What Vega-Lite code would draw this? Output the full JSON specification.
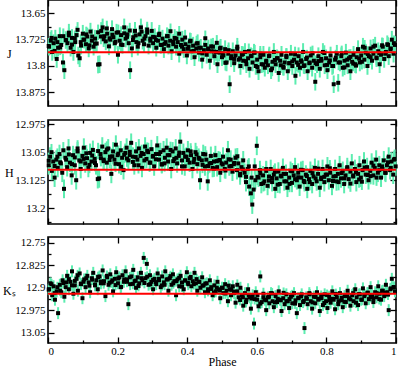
{
"$schema":"https://vega.github.io/schema/vega-lite/v6.json",
"padding":{"left":1,"top":-2,"right":0,"bottom":0},
"spacing":9,
"config":{
 "view":{"stroke":"black","strokeWidth":1.6},
 "axis":{"labelFont":"Liberation Serif","labelFontSize":11,"labelColor":"black","titleFont":"Liberation Serif","titleFontSize":12,"titleFontWeight":"normal","titleColor":"black","tickColor":"black","tickWidth":1.3,"grid":false,"domain":false}
},
"datasets":{
"J":[
{"phase":0.003,"mag":13.745,"err":0.025},{"phase":0.008,"mag":13.728,"err":0.025},{"phase":0.012,"mag":13.760,"err":0.025},{"phase":0.016,"mag":13.735,"err":0.025},{"phase":0.021,"mag":13.722,"err":0.025},{"phase":0.025,"mag":13.780,"err":0.025},{"phase":0.029,"mag":13.748,"err":0.025},{"phase":0.034,"mag":13.715,"err":0.025},{"phase":0.038,"mag":13.740,"err":0.025},{"phase":0.043,"mag":13.790,"err":0.025},{"phase":0.047,"mag":13.812,"err":0.025},{"phase":0.051,"mag":13.726,"err":0.025},{"phase":0.056,"mag":13.735,"err":0.025},{"phase":0.060,"mag":13.705,"err":0.025},{"phase":0.065,"mag":13.748,"err":0.025},{"phase":0.069,"mag":13.720,"err":0.025},{"phase":0.073,"mag":13.760,"err":0.025},{"phase":0.078,"mag":13.732,"err":0.025},{"phase":0.082,"mag":13.712,"err":0.025},{"phase":0.087,"mag":13.770,"err":0.025},{"phase":0.091,"mag":13.778,"err":0.025},{"phase":0.095,"mag":13.742,"err":0.025},{"phase":0.100,"mag":13.708,"err":0.025},{"phase":0.104,"mag":13.725,"err":0.025},{"phase":0.109,"mag":13.738,"err":0.025},{"phase":0.113,"mag":13.716,"err":0.025},{"phase":0.117,"mag":13.750,"err":0.025},{"phase":0.122,"mag":13.702,"err":0.025},{"phase":0.126,"mag":13.728,"err":0.025},{"phase":0.131,"mag":13.745,"err":0.025},{"phase":0.135,"mag":13.722,"err":0.025},{"phase":0.140,"mag":13.736,"err":0.025},{"phase":0.144,"mag":13.796,"err":0.025},{"phase":0.148,"mag":13.795,"err":0.025},{"phase":0.153,"mag":13.700,"err":0.025},{"phase":0.157,"mag":13.690,"err":0.025},{"phase":0.162,"mag":13.715,"err":0.025},{"phase":0.166,"mag":13.730,"err":0.025},{"phase":0.170,"mag":13.708,"err":0.025},{"phase":0.175,"mag":13.744,"err":0.025},{"phase":0.179,"mag":13.725,"err":0.025},{"phase":0.184,"mag":13.695,"err":0.025},{"phase":0.188,"mag":13.718,"err":0.025},{"phase":0.192,"mag":13.735,"err":0.025},{"phase":0.197,"mag":13.705,"err":0.025},{"phase":0.201,"mag":13.768,"err":0.025},{"phase":0.206,"mag":13.728,"err":0.025},{"phase":0.210,"mag":13.712,"err":0.025},{"phase":0.214,"mag":13.740,"err":0.025},{"phase":0.219,"mag":13.690,"err":0.025},{"phase":0.223,"mag":13.722,"err":0.025},{"phase":0.228,"mag":13.710,"err":0.025},{"phase":0.232,"mag":13.735,"err":0.025},{"phase":0.236,"mag":13.812,"err":0.025},{"phase":0.241,"mag":13.750,"err":0.025},{"phase":0.245,"mag":13.718,"err":0.025},{"phase":0.250,"mag":13.700,"err":0.025},{"phase":0.254,"mag":13.732,"err":0.025},{"phase":0.258,"mag":13.745,"err":0.025},{"phase":0.263,"mag":13.710,"err":0.025},{"phase":0.267,"mag":13.690,"err":0.025},{"phase":0.272,"mag":13.728,"err":0.025},{"phase":0.276,"mag":13.738,"err":0.025},{"phase":0.280,"mag":13.715,"err":0.025},{"phase":0.285,"mag":13.705,"err":0.025},{"phase":0.289,"mag":13.742,"err":0.025},{"phase":0.294,"mag":13.722,"err":0.025},{"phase":0.298,"mag":13.700,"err":0.025},{"phase":0.302,"mag":13.735,"err":0.025},{"phase":0.307,"mag":13.718,"err":0.025},{"phase":0.311,"mag":13.748,"err":0.025},{"phase":0.316,"mag":13.728,"err":0.025},{"phase":0.320,"mag":13.708,"err":0.025},{"phase":0.324,"mag":13.740,"err":0.025},{"phase":0.329,"mag":13.722,"err":0.025},{"phase":0.333,"mag":13.752,"err":0.025},{"phase":0.338,"mag":13.732,"err":0.025},{"phase":0.342,"mag":13.715,"err":0.025},{"phase":0.346,"mag":13.742,"err":0.025},{"phase":0.351,"mag":13.728,"err":0.025},{"phase":0.355,"mag":13.758,"err":0.025},{"phase":0.360,"mag":13.738,"err":0.025},{"phase":0.364,"mag":13.720,"err":0.025},{"phase":0.368,"mag":13.745,"err":0.025},{"phase":0.373,"mag":13.732,"err":0.025},{"phase":0.377,"mag":13.765,"err":0.025},{"phase":0.382,"mag":13.740,"err":0.025},{"phase":0.386,"mag":13.725,"err":0.025},{"phase":0.390,"mag":13.752,"err":0.025},{"phase":0.395,"mag":13.738,"err":0.025},{"phase":0.399,"mag":13.770,"err":0.025},{"phase":0.404,"mag":13.745,"err":0.025},{"phase":0.408,"mag":13.730,"err":0.025},{"phase":0.412,"mag":13.758,"err":0.025},{"phase":0.417,"mag":13.742,"err":0.025},{"phase":0.421,"mag":13.775,"err":0.025},{"phase":0.426,"mag":13.750,"err":0.025},{"phase":0.430,"mag":13.735,"err":0.025},{"phase":0.434,"mag":13.762,"err":0.025},{"phase":0.439,"mag":13.748,"err":0.025},{"phase":0.443,"mag":13.782,"err":0.025},{"phase":0.448,"mag":13.755,"err":0.025},{"phase":0.452,"mag":13.740,"err":0.025},{"phase":0.456,"mag":13.768,"err":0.025},{"phase":0.461,"mag":13.750,"err":0.025},{"phase":0.465,"mag":13.785,"err":0.025},{"phase":0.470,"mag":13.758,"err":0.025},{"phase":0.474,"mag":13.745,"err":0.025},{"phase":0.478,"mag":13.772,"err":0.025},{"phase":0.483,"mag":13.760,"err":0.025},{"phase":0.487,"mag":13.795,"err":0.025},{"phase":0.492,"mag":13.762,"err":0.025},{"phase":0.496,"mag":13.748,"err":0.025},{"phase":0.500,"mag":13.775,"err":0.025},
{"phase":0.504,"mag":13.770,"err":0.025},{"phase":0.509,"mag":13.752,"err":0.025},{"phase":0.513,"mag":13.790,"err":0.025},{"phase":0.518,"mag":13.765,"err":0.025},{"phase":0.522,"mag":13.852,"err":0.025},{"phase":0.526,"mag":13.778,"err":0.025},{"phase":0.531,"mag":13.758,"err":0.025},{"phase":0.535,"mag":13.792,"err":0.025},{"phase":0.539,"mag":13.770,"err":0.025},{"phase":0.544,"mag":13.745,"err":0.025},{"phase":0.548,"mag":13.782,"err":0.025},{"phase":0.553,"mag":13.800,"err":0.025},{"phase":0.557,"mag":13.768,"err":0.025},{"phase":0.561,"mag":13.785,"err":0.025},{"phase":0.566,"mag":13.760,"err":0.025},{"phase":0.570,"mag":13.795,"err":0.025},{"phase":0.575,"mag":13.778,"err":0.025},{"phase":0.579,"mag":13.808,"err":0.025},{"phase":0.583,"mag":13.772,"err":0.025},{"phase":0.588,"mag":13.790,"err":0.025},{"phase":0.592,"mag":13.762,"err":0.025},{"phase":0.597,"mag":13.800,"err":0.025},{"phase":0.601,"mag":13.782,"err":0.025},{"phase":0.605,"mag":13.815,"err":0.025},{"phase":0.610,"mag":13.775,"err":0.025},{"phase":0.614,"mag":13.795,"err":0.025},{"phase":0.619,"mag":13.768,"err":0.025},{"phase":0.623,"mag":13.805,"err":0.025},{"phase":0.627,"mag":13.785,"err":0.025},{"phase":0.632,"mag":13.798,"err":0.025},{"phase":0.636,"mag":13.770,"err":0.025},{"phase":0.641,"mag":13.812,"err":0.025},{"phase":0.645,"mag":13.788,"err":0.025},{"phase":0.649,"mag":13.760,"err":0.025},{"phase":0.654,"mag":13.795,"err":0.025},{"phase":0.658,"mag":13.778,"err":0.025},{"phase":0.663,"mag":13.820,"err":0.025},{"phase":0.667,"mag":13.785,"err":0.025},{"phase":0.671,"mag":13.768,"err":0.025},{"phase":0.676,"mag":13.802,"err":0.025},{"phase":0.680,"mag":13.790,"err":0.025},{"phase":0.685,"mag":13.775,"err":0.025},{"phase":0.689,"mag":13.815,"err":0.025},{"phase":0.693,"mag":13.792,"err":0.025},{"phase":0.698,"mag":13.765,"err":0.025},{"phase":0.702,"mag":13.800,"err":0.025},{"phase":0.707,"mag":13.782,"err":0.025},{"phase":0.711,"mag":13.828,"err":0.025},{"phase":0.715,"mag":13.790,"err":0.025},{"phase":0.720,"mag":13.772,"err":0.025},{"phase":0.724,"mag":13.805,"err":0.025},{"phase":0.729,"mag":13.788,"err":0.025},{"phase":0.733,"mag":13.760,"err":0.025},{"phase":0.737,"mag":13.798,"err":0.025},{"phase":0.742,"mag":13.780,"err":0.025},{"phase":0.746,"mag":13.815,"err":0.025},{"phase":0.751,"mag":13.792,"err":0.025},{"phase":0.755,"mag":13.770,"err":0.025},{"phase":0.759,"mag":13.805,"err":0.025},{"phase":0.764,"mag":13.785,"err":0.025},{"phase":0.768,"mag":13.845,"err":0.025},{"phase":0.773,"mag":13.795,"err":0.025},{"phase":0.777,"mag":13.772,"err":0.025},{"phase":0.781,"mag":13.808,"err":0.025},{"phase":0.786,"mag":13.785,"err":0.025},{"phase":0.790,"mag":13.760,"err":0.025},{"phase":0.795,"mag":13.798,"err":0.025},{"phase":0.799,"mag":13.778,"err":0.025},{"phase":0.803,"mag":13.812,"err":0.025},{"phase":0.808,"mag":13.790,"err":0.025},{"phase":0.812,"mag":13.770,"err":0.025},{"phase":0.817,"mag":13.800,"err":0.025},{"phase":0.821,"mag":13.852,"err":0.025},{"phase":0.825,"mag":13.782,"err":0.025},{"phase":0.830,"mag":13.765,"err":0.025},{"phase":0.834,"mag":13.848,"err":0.025},{"phase":0.839,"mag":13.790,"err":0.025},{"phase":0.843,"mag":13.772,"err":0.025},{"phase":0.847,"mag":13.805,"err":0.025},{"phase":0.852,"mag":13.785,"err":0.025},{"phase":0.856,"mag":13.762,"err":0.025},{"phase":0.861,"mag":13.798,"err":0.025},{"phase":0.865,"mag":13.778,"err":0.025},{"phase":0.869,"mag":13.815,"err":0.025},{"phase":0.874,"mag":13.788,"err":0.025},{"phase":0.878,"mag":13.768,"err":0.025},{"phase":0.883,"mag":13.795,"err":0.025},{"phase":0.887,"mag":13.775,"err":0.025},{"phase":0.891,"mag":13.752,"err":0.025},{"phase":0.896,"mag":13.790,"err":0.025},{"phase":0.900,"mag":13.770,"err":0.025},{"phase":0.905,"mag":13.745,"err":0.025},{"phase":0.909,"mag":13.782,"err":0.025},{"phase":0.913,"mag":13.762,"err":0.025},{"phase":0.918,"mag":13.800,"err":0.025},{"phase":0.922,"mag":13.772,"err":0.025},{"phase":0.927,"mag":13.750,"err":0.025},{"phase":0.931,"mag":13.785,"err":0.025},{"phase":0.935,"mag":13.765,"err":0.025},{"phase":0.940,"mag":13.742,"err":0.025},{"phase":0.944,"mag":13.778,"err":0.025},{"phase":0.949,"mag":13.758,"err":0.025},{"phase":0.953,"mag":13.795,"err":0.025},{"phase":0.957,"mag":13.768,"err":0.025},{"phase":0.962,"mag":13.745,"err":0.025},{"phase":0.966,"mag":13.780,"err":0.025},{"phase":0.971,"mag":13.760,"err":0.025},{"phase":0.975,"mag":13.738,"err":0.025},{"phase":0.979,"mag":13.772,"err":0.025},{"phase":0.984,"mag":13.752,"err":0.025},{"phase":0.988,"mag":13.725,"err":0.025},{"phase":0.993,"mag":13.765,"err":0.025},{"phase":0.997,"mag":13.740,"err":0.025},
{"phase":0.002,"mag":13.743,"err":0.022},{"phase":0.010,"mag":13.720,"err":0.022},{"phase":0.019,"mag":13.757,"err":0.022},{"phase":0.027,"mag":13.732,"err":0.022},{"phase":0.035,"mag":13.747,"err":0.022},{"phase":0.044,"mag":13.715,"err":0.022},{"phase":0.052,"mag":13.727,"err":0.022},{"phase":0.060,"mag":13.713,"err":0.022},{"phase":0.069,"mag":13.739,"err":0.022},{"phase":0.077,"mag":13.721,"err":0.022},{"phase":0.085,"mag":13.697,"err":0.022},{"phase":0.094,"mag":13.732,"err":0.022},{"phase":0.102,"mag":13.725,"err":0.022},{"phase":0.110,"mag":13.710,"err":0.022},{"phase":0.119,"mag":13.741,"err":0.022},{"phase":0.127,"mag":13.716,"err":0.022},{"phase":0.135,"mag":13.736,"err":0.022},{"phase":0.144,"mag":13.704,"err":0.022},{"phase":0.152,"mag":13.716,"err":0.022},{"phase":0.160,"mag":13.724,"err":0.022},{"phase":0.169,"mag":13.693,"err":0.022},{"phase":0.177,"mag":13.721,"err":0.022},{"phase":0.185,"mag":13.711,"err":0.022},{"phase":0.194,"mag":13.731,"err":0.022},{"phase":0.202,"mag":13.704,"err":0.022},{"phase":0.210,"mag":13.739,"err":0.022},{"phase":0.219,"mag":13.707,"err":0.022},{"phase":0.227,"mag":13.717,"err":0.022},{"phase":0.235,"mag":13.699,"err":0.022},{"phase":0.244,"mag":13.726,"err":0.022},{"phase":0.252,"mag":13.713,"err":0.022},{"phase":0.260,"mag":13.735,"err":0.022},{"phase":0.269,"mag":13.702,"err":0.022},{"phase":0.277,"mag":13.722,"err":0.022},{"phase":0.285,"mag":13.696,"err":0.022},{"phase":0.294,"mag":13.728,"err":0.022},{"phase":0.302,"mag":13.717,"err":0.022},{"phase":0.310,"mag":13.726,"err":0.022},{"phase":0.319,"mag":13.712,"err":0.022},{"phase":0.327,"mag":13.740,"err":0.022},{"phase":0.335,"mag":13.737,"err":0.022},{"phase":0.344,"mag":13.715,"err":0.022},{"phase":0.352,"mag":13.701,"err":0.022},{"phase":0.360,"mag":13.731,"err":0.022},{"phase":0.369,"mag":13.722,"err":0.022},{"phase":0.377,"mag":13.708,"err":0.022},{"phase":0.385,"mag":13.745,"err":0.022},{"phase":0.394,"mag":13.719,"err":0.022},{"phase":0.402,"mag":13.751,"err":0.022},{"phase":0.410,"mag":13.728,"err":0.022},{"phase":0.419,"mag":13.757,"err":0.022},{"phase":0.427,"mag":13.736,"err":0.022},{"phase":0.435,"mag":13.748,"err":0.022},{"phase":0.444,"mag":13.764,"err":0.022},{"phase":0.452,"mag":13.721,"err":0.022},{"phase":0.460,"mag":13.752,"err":0.022},{"phase":0.469,"mag":13.744,"err":0.022},{"phase":0.477,"mag":13.759,"err":0.022},{"phase":0.485,"mag":13.734,"err":0.022},{"phase":0.494,"mag":13.750,"err":0.022},{"phase":0.502,"mag":13.764,"err":0.022},{"phase":0.510,"mag":13.791,"err":0.022},{"phase":0.519,"mag":13.755,"err":0.022},{"phase":0.527,"mag":13.772,"err":0.022},{"phase":0.535,"mag":13.780,"err":0.022},{"phase":0.544,"mag":13.751,"err":0.022},{"phase":0.552,"mag":13.778,"err":0.022},{"phase":0.560,"mag":13.766,"err":0.022},{"phase":0.569,"mag":13.786,"err":0.022},{"phase":0.577,"mag":13.758,"err":0.022},{"phase":0.585,"mag":13.771,"err":0.022},{"phase":0.594,"mag":13.762,"err":0.022},{"phase":0.602,"mag":13.803,"err":0.022},{"phase":0.610,"mag":13.765,"err":0.022},{"phase":0.619,"mag":13.796,"err":0.022},{"phase":0.627,"mag":13.789,"err":0.022},{"phase":0.635,"mag":13.772,"err":0.022},{"phase":0.644,"mag":13.807,"err":0.022},{"phase":0.652,"mag":13.783,"err":0.022},{"phase":0.660,"mag":13.778,"err":0.022},{"phase":0.669,"mag":13.798,"err":0.022},{"phase":0.677,"mag":13.805,"err":0.022},{"phase":0.685,"mag":13.771,"err":0.022},{"phase":0.694,"mag":13.792,"err":0.022},{"phase":0.702,"mag":13.787,"err":0.022},{"phase":0.710,"mag":13.767,"err":0.022},{"phase":0.719,"mag":13.797,"err":0.022},{"phase":0.727,"mag":13.784,"err":0.022},{"phase":0.735,"mag":13.800,"err":0.022},{"phase":0.744,"mag":13.776,"err":0.022},{"phase":0.752,"mag":13.790,"err":0.022},{"phase":0.760,"mag":13.764,"err":0.022},{"phase":0.769,"mag":13.792,"err":0.022},{"phase":0.777,"mag":13.786,"err":0.022},{"phase":0.785,"mag":13.780,"err":0.022},{"phase":0.794,"mag":13.763,"err":0.022},{"phase":0.802,"mag":13.797,"err":0.022},{"phase":0.810,"mag":13.784,"err":0.022},{"phase":0.819,"mag":13.800,"err":0.022},{"phase":0.827,"mag":13.776,"err":0.022},{"phase":0.835,"mag":13.790,"err":0.022},{"phase":0.844,"mag":13.764,"err":0.022},{"phase":0.852,"mag":13.804,"err":0.022},{"phase":0.860,"mag":13.782,"err":0.022},{"phase":0.869,"mag":13.774,"err":0.022},{"phase":0.877,"mag":13.793,"err":0.022},{"phase":0.885,"mag":13.799,"err":0.022},{"phase":0.894,"mag":13.779,"err":0.022},{"phase":0.902,"mag":13.788,"err":0.022},{"phase":0.910,"mag":13.748,"err":0.022},{"phase":0.919,"mag":13.766,"err":0.022},{"phase":0.927,"mag":13.775,"err":0.022},{"phase":0.935,"mag":13.745,"err":0.022},{"phase":0.944,"mag":13.776,"err":0.022},{"phase":0.952,"mag":13.763,"err":0.022},{"phase":0.960,"mag":13.741,"err":0.022},{"phase":0.969,"mag":13.765,"err":0.022},{"phase":0.977,"mag":13.740,"err":0.022},{"phase":0.985,"mag":13.750,"err":0.022},{"phase":0.994,"mag":13.735,"err":0.022}
],
"H":[
{"phase":0.002,"mag":13.085,"err":0.025},{"phase":0.006,"mag":13.062,"err":0.025},{"phase":0.011,"mag":13.100,"err":0.025},{"phase":0.015,"mag":13.075,"err":0.025},{"phase":0.019,"mag":13.118,"err":0.025},{"phase":0.024,"mag":13.070,"err":0.025},{"phase":0.028,"mag":13.092,"err":0.025},{"phase":0.033,"mag":13.055,"err":0.025},{"phase":0.037,"mag":13.080,"err":0.025},{"phase":0.041,"mag":13.105,"err":0.025},{"phase":0.046,"mag":13.148,"err":0.025},{"phase":0.050,"mag":13.065,"err":0.025},{"phase":0.055,"mag":13.090,"err":0.025},{"phase":0.059,"mag":13.040,"err":0.025},{"phase":0.063,"mag":13.078,"err":0.025},{"phase":0.068,"mag":13.112,"err":0.025},{"phase":0.072,"mag":13.058,"err":0.025},{"phase":0.077,"mag":13.085,"err":0.025},{"phase":0.081,"mag":13.125,"err":0.025},{"phase":0.085,"mag":13.048,"err":0.025},{"phase":0.090,"mag":13.072,"err":0.025},{"phase":0.094,"mag":13.095,"err":0.025},{"phase":0.099,"mag":13.060,"err":0.025},{"phase":0.103,"mag":13.038,"err":0.025},{"phase":0.107,"mag":13.080,"err":0.025},{"phase":0.112,"mag":13.066,"err":0.025},{"phase":0.116,"mag":13.092,"err":0.025},{"phase":0.121,"mag":13.052,"err":0.025},{"phase":0.125,"mag":13.075,"err":0.025},{"phase":0.129,"mag":13.044,"err":0.025},{"phase":0.134,"mag":13.068,"err":0.025},{"phase":0.138,"mag":13.085,"err":0.025},{"phase":0.143,"mag":13.122,"err":0.025},{"phase":0.147,"mag":13.120,"err":0.025},{"phase":0.151,"mag":13.055,"err":0.025},{"phase":0.156,"mag":13.035,"err":0.025},{"phase":0.160,"mag":13.070,"err":0.025},{"phase":0.165,"mag":13.050,"err":0.025},{"phase":0.169,"mag":13.078,"err":0.025},{"phase":0.173,"mag":13.040,"err":0.025},{"phase":0.178,"mag":13.062,"err":0.025},{"phase":0.182,"mag":13.108,"err":0.025},{"phase":0.187,"mag":13.048,"err":0.025},{"phase":0.191,"mag":13.070,"err":0.025},{"phase":0.195,"mag":13.030,"err":0.025},{"phase":0.200,"mag":13.058,"err":0.025},{"phase":0.204,"mag":13.082,"err":0.025},{"phase":0.209,"mag":13.045,"err":0.025},{"phase":0.213,"mag":13.065,"err":0.025},{"phase":0.217,"mag":13.098,"err":0.025},{"phase":0.222,"mag":13.052,"err":0.025},{"phase":0.226,"mag":13.038,"err":0.025},{"phase":0.231,"mag":13.072,"err":0.025},{"phase":0.235,"mag":13.058,"err":0.025},{"phase":0.239,"mag":13.025,"err":0.025},{"phase":0.244,"mag":13.062,"err":0.025},{"phase":0.248,"mag":13.085,"err":0.025},{"phase":0.253,"mag":13.048,"err":0.025},{"phase":0.257,"mag":13.070,"err":0.025},{"phase":0.261,"mag":13.040,"err":0.025},{"phase":0.266,"mag":13.060,"err":0.025},{"phase":0.270,"mag":13.092,"err":0.025},{"phase":0.275,"mag":13.055,"err":0.025},{"phase":0.279,"mag":13.035,"err":0.025},{"phase":0.283,"mag":13.068,"err":0.025},{"phase":0.288,"mag":13.050,"err":0.025},{"phase":0.292,"mag":13.078,"err":0.025},{"phase":0.297,"mag":13.042,"err":0.025},{"phase":0.301,"mag":13.062,"err":0.025},{"phase":0.305,"mag":13.088,"err":0.025},{"phase":0.310,"mag":13.055,"err":0.025},{"phase":0.314,"mag":13.032,"err":0.025},{"phase":0.319,"mag":13.070,"err":0.025},{"phase":0.323,"mag":13.050,"err":0.025},{"phase":0.327,"mag":13.082,"err":0.025},{"phase":0.332,"mag":13.045,"err":0.025},{"phase":0.336,"mag":13.065,"err":0.025},{"phase":0.341,"mag":13.038,"err":0.025},{"phase":0.345,"mag":13.075,"err":0.025},{"phase":0.349,"mag":13.058,"err":0.025},{"phase":0.354,"mag":13.095,"err":0.025},{"phase":0.358,"mag":13.048,"err":0.025},{"phase":0.363,"mag":13.068,"err":0.025},{"phase":0.367,"mag":13.040,"err":0.025},{"phase":0.371,"mag":13.080,"err":0.025},{"phase":0.376,"mag":13.060,"err":0.025},{"phase":0.380,"mag":13.022,"err":0.025},{"phase":0.385,"mag":13.072,"err":0.025},{"phase":0.389,"mag":13.052,"err":0.025},{"phase":0.393,"mag":13.088,"err":0.025},{"phase":0.398,"mag":13.062,"err":0.025},{"phase":0.402,"mag":13.045,"err":0.025},{"phase":0.407,"mag":13.078,"err":0.025},{"phase":0.411,"mag":13.058,"err":0.025},{"phase":0.415,"mag":13.095,"err":0.025},{"phase":0.420,"mag":13.068,"err":0.025},{"phase":0.424,"mag":13.050,"err":0.025},{"phase":0.429,"mag":13.082,"err":0.025},{"phase":0.433,"mag":13.065,"err":0.025},{"phase":0.437,"mag":13.125,"err":0.025},{"phase":0.442,"mag":13.072,"err":0.025},{"phase":0.446,"mag":13.055,"err":0.025},{"phase":0.451,"mag":13.088,"err":0.025},{"phase":0.455,"mag":13.070,"err":0.025},{"phase":0.459,"mag":13.128,"err":0.025},{"phase":0.464,"mag":13.080,"err":0.025},{"phase":0.468,"mag":13.060,"err":0.025},{"phase":0.473,"mag":13.092,"err":0.025},{"phase":0.477,"mag":13.075,"err":0.025},{"phase":0.481,"mag":13.058,"err":0.025},{"phase":0.486,"mag":13.090,"err":0.025},{"phase":0.490,"mag":13.072,"err":0.025},{"phase":0.495,"mag":13.105,"err":0.025},{"phase":0.499,"mag":13.080,"err":0.025},{"phase":0.503,"mag":13.062,"err":0.025},{"phase":0.508,"mag":13.095,"err":0.025},{"phase":0.512,"mag":13.078,"err":0.025},{"phase":0.517,"mag":13.045,"err":0.025},{"phase":0.521,"mag":13.088,"err":0.025},{"phase":0.525,"mag":13.070,"err":0.025},{"phase":0.530,"mag":13.102,"err":0.025},{"phase":0.534,"mag":13.082,"err":0.025},{"phase":0.539,"mag":13.065,"err":0.025},{"phase":0.543,"mag":13.098,"err":0.025},{"phase":0.547,"mag":13.080,"err":0.025},{"phase":0.552,"mag":13.112,"err":0.025},{"phase":0.556,"mag":13.090,"err":0.025},{"phase":0.561,"mag":13.072,"err":0.025},{"phase":0.565,"mag":13.105,"err":0.025},{"phase":0.569,"mag":13.130,"err":0.025},{"phase":0.574,"mag":13.095,"err":0.025},{"phase":0.578,"mag":13.142,"err":0.025},{"phase":0.583,"mag":13.160,"err":0.025},{"phase":0.587,"mag":13.190,"err":0.025},{"phase":0.591,"mag":13.150,"err":0.025},{"phase":0.596,"mag":13.125,"err":0.025},{"phase":0.600,"mag":13.033,"err":0.025},{"phase":0.605,"mag":13.118,"err":0.025},{"phase":0.609,"mag":13.098,"err":0.025},{"phase":0.613,"mag":13.135,"err":0.025},{"phase":0.618,"mag":13.112,"err":0.025},{"phase":0.622,"mag":13.128,"err":0.025},{"phase":0.627,"mag":13.100,"err":0.025},{"phase":0.631,"mag":13.140,"err":0.025},{"phase":0.635,"mag":13.115,"err":0.025},{"phase":0.640,"mag":13.095,"err":0.025},{"phase":0.644,"mag":13.130,"err":0.025},{"phase":0.649,"mag":13.110,"err":0.025},{"phase":0.653,"mag":13.148,"err":0.025},{"phase":0.657,"mag":13.120,"err":0.025},{"phase":0.662,"mag":13.102,"err":0.025},{"phase":0.666,"mag":13.135,"err":0.025},{"phase":0.671,"mag":13.115,"err":0.025},{"phase":0.675,"mag":13.092,"err":0.025},{"phase":0.679,"mag":13.128,"err":0.025},{"phase":0.684,"mag":13.108,"err":0.025},{"phase":0.688,"mag":13.145,"err":0.025},{"phase":0.693,"mag":13.118,"err":0.025},{"phase":0.697,"mag":13.100,"err":0.025},{"phase":0.701,"mag":13.132,"err":0.025},{"phase":0.706,"mag":13.112,"err":0.025},{"phase":0.710,"mag":13.090,"err":0.025},{"phase":0.715,"mag":13.125,"err":0.025},{"phase":0.719,"mag":13.105,"err":0.025},{"phase":0.723,"mag":13.142,"err":0.025},{"phase":0.728,"mag":13.118,"err":0.025},{"phase":0.732,"mag":13.098,"err":0.025},{"phase":0.737,"mag":13.130,"err":0.025},{"phase":0.741,"mag":13.110,"err":0.025},{"phase":0.745,"mag":13.148,"err":0.025},{"phase":0.750,"mag":13.122,"err":0.025},{"phase":0.754,"mag":13.100,"err":0.025},{"phase":0.759,"mag":13.135,"err":0.025},{"phase":0.763,"mag":13.115,"err":0.025},{"phase":0.767,"mag":13.092,"err":0.025},{"phase":0.772,"mag":13.128,"err":0.025},{"phase":0.776,"mag":13.108,"err":0.025},{"phase":0.781,"mag":13.145,"err":0.025},{"phase":0.785,"mag":13.118,"err":0.025},{"phase":0.789,"mag":13.095,"err":0.025},{"phase":0.794,"mag":13.130,"err":0.025},{"phase":0.798,"mag":13.110,"err":0.025},{"phase":0.803,"mag":13.088,"err":0.025},{"phase":0.807,"mag":13.125,"err":0.025},{"phase":0.811,"mag":13.105,"err":0.025},{"phase":0.816,"mag":13.140,"err":0.025},{"phase":0.820,"mag":13.115,"err":0.025},{"phase":0.825,"mag":13.095,"err":0.025},{"phase":0.829,"mag":13.128,"err":0.025},{"phase":0.833,"mag":13.108,"err":0.025},{"phase":0.838,"mag":13.085,"err":0.025},{"phase":0.842,"mag":13.120,"err":0.025},{"phase":0.847,"mag":13.100,"err":0.025},{"phase":0.851,"mag":13.135,"err":0.025},{"phase":0.855,"mag":13.112,"err":0.025},{"phase":0.860,"mag":13.090,"err":0.025},{"phase":0.864,"mag":13.122,"err":0.025},{"phase":0.869,"mag":13.102,"err":0.025},{"phase":0.873,"mag":13.080,"err":0.025},{"phase":0.877,"mag":13.115,"err":0.025},{"phase":0.882,"mag":13.095,"err":0.025},{"phase":0.886,"mag":13.130,"err":0.025},{"phase":0.891,"mag":13.108,"err":0.025},{"phase":0.895,"mag":13.085,"err":0.025},{"phase":0.899,"mag":13.118,"err":0.025},{"phase":0.904,"mag":13.098,"err":0.025},{"phase":0.908,"mag":13.075,"err":0.025},{"phase":0.913,"mag":13.110,"err":0.025},{"phase":0.917,"mag":13.090,"err":0.025},{"phase":0.921,"mag":13.125,"err":0.025},{"phase":0.926,"mag":13.100,"err":0.025},{"phase":0.930,"mag":13.078,"err":0.025},{"phase":0.935,"mag":13.112,"err":0.025},{"phase":0.939,"mag":13.092,"err":0.025},{"phase":0.943,"mag":13.070,"err":0.025},{"phase":0.948,"mag":13.105,"err":0.025},{"phase":0.952,"mag":13.085,"err":0.025},{"phase":0.957,"mag":13.118,"err":0.025},{"phase":0.961,"mag":13.095,"err":0.025},{"phase":0.965,"mag":13.072,"err":0.025},{"phase":0.970,"mag":13.105,"err":0.025},{"phase":0.974,"mag":13.085,"err":0.025},{"phase":0.979,"mag":13.062,"err":0.025},{"phase":0.983,"mag":13.098,"err":0.025},{"phase":0.987,"mag":13.075,"err":0.025},{"phase":0.992,"mag":13.110,"err":0.025},{"phase":0.996,"mag":13.068,"err":0.025},{"phase":0.999,"mag":13.088,"err":0.025},
{"phase":0.002,"mag":13.073,"err":0.022},{"phase":0.010,"mag":13.050,"err":0.022},{"phase":0.019,"mag":13.087,"err":0.022},{"phase":0.027,"mag":13.062,"err":0.022},{"phase":0.035,"mag":13.077,"err":0.022},{"phase":0.044,"mag":13.045,"err":0.022},{"phase":0.052,"mag":13.070,"err":0.022},{"phase":0.060,"mag":13.056,"err":0.022},{"phase":0.069,"mag":13.082,"err":0.022},{"phase":0.077,"mag":13.064,"err":0.022},{"phase":0.085,"mag":13.040,"err":0.022},{"phase":0.094,"mag":13.075,"err":0.022},{"phase":0.102,"mag":13.068,"err":0.022},{"phase":0.110,"mag":13.053,"err":0.022},{"phase":0.119,"mag":13.084,"err":0.022},{"phase":0.127,"mag":13.059,"err":0.022},{"phase":0.135,"mag":13.079,"err":0.022},{"phase":0.144,"mag":13.047,"err":0.022},{"phase":0.152,"mag":13.066,"err":0.022},{"phase":0.160,"mag":13.074,"err":0.022},{"phase":0.169,"mag":13.043,"err":0.022},{"phase":0.177,"mag":13.071,"err":0.022},{"phase":0.185,"mag":13.061,"err":0.022},{"phase":0.194,"mag":13.081,"err":0.022},{"phase":0.202,"mag":13.054,"err":0.022},{"phase":0.210,"mag":13.089,"err":0.022},{"phase":0.219,"mag":13.057,"err":0.022},{"phase":0.227,"mag":13.067,"err":0.022},{"phase":0.235,"mag":13.049,"err":0.022},{"phase":0.244,"mag":13.076,"err":0.022},{"phase":0.252,"mag":13.063,"err":0.022},{"phase":0.260,"mag":13.085,"err":0.022},{"phase":0.269,"mag":13.052,"err":0.022},{"phase":0.277,"mag":13.072,"err":0.022},{"phase":0.285,"mag":13.046,"err":0.022},{"phase":0.294,"mag":13.078,"err":0.022},{"phase":0.302,"mag":13.060,"err":0.022},{"phase":0.310,"mag":13.069,"err":0.022},{"phase":0.319,"mag":13.055,"err":0.022},{"phase":0.327,"mag":13.083,"err":0.022},{"phase":0.335,"mag":13.080,"err":0.022},{"phase":0.344,"mag":13.058,"err":0.022},{"phase":0.352,"mag":13.044,"err":0.022},{"phase":0.360,"mag":13.074,"err":0.022},{"phase":0.369,"mag":13.065,"err":0.022},{"phase":0.377,"mag":13.051,"err":0.022},{"phase":0.385,"mag":13.088,"err":0.022},{"phase":0.394,"mag":13.062,"err":0.022},{"phase":0.402,"mag":13.071,"err":0.022},{"phase":0.410,"mag":13.048,"err":0.022},{"phase":0.419,"mag":13.077,"err":0.022},{"phase":0.427,"mag":13.056,"err":0.022},{"phase":0.435,"mag":13.068,"err":0.022},{"phase":0.444,"mag":13.084,"err":0.022},{"phase":0.452,"mag":13.056,"err":0.022},{"phase":0.460,"mag":13.087,"err":0.022},{"phase":0.469,"mag":13.079,"err":0.022},{"phase":0.477,"mag":13.094,"err":0.022},{"phase":0.485,"mag":13.074,"err":0.022},{"phase":0.494,"mag":13.071,"err":0.022},{"phase":0.502,"mag":13.083,"err":0.022},{"phase":0.510,"mag":13.099,"err":0.022},{"phase":0.519,"mag":13.069,"err":0.022},{"phase":0.527,"mag":13.087,"err":0.022},{"phase":0.535,"mag":13.079,"err":0.022},{"phase":0.544,"mag":13.061,"err":0.022},{"phase":0.552,"mag":13.108,"err":0.022},{"phase":0.560,"mag":13.096,"err":0.022},{"phase":0.569,"mag":13.116,"err":0.022},{"phase":0.577,"mag":13.088,"err":0.022},{"phase":0.585,"mag":13.118,"err":0.022},{"phase":0.594,"mag":13.088,"err":0.022},{"phase":0.602,"mag":13.116,"err":0.022},{"phase":0.610,"mag":13.107,"err":0.022},{"phase":0.619,"mag":13.133,"err":0.022},{"phase":0.627,"mag":13.095,"err":0.022},{"phase":0.635,"mag":13.126,"err":0.022},{"phase":0.644,"mag":13.119,"err":0.022},{"phase":0.652,"mag":13.102,"err":0.022},{"phase":0.660,"mag":13.137,"err":0.022},{"phase":0.669,"mag":13.113,"err":0.022},{"phase":0.677,"mag":13.108,"err":0.022},{"phase":0.685,"mag":13.128,"err":0.022},{"phase":0.694,"mag":13.135,"err":0.022},{"phase":0.702,"mag":13.101,"err":0.022},{"phase":0.710,"mag":13.122,"err":0.022},{"phase":0.719,"mag":13.117,"err":0.022},{"phase":0.727,"mag":13.097,"err":0.022},{"phase":0.735,"mag":13.127,"err":0.022},{"phase":0.744,"mag":13.114,"err":0.022},{"phase":0.752,"mag":13.130,"err":0.022},{"phase":0.760,"mag":13.106,"err":0.022},{"phase":0.769,"mag":13.120,"err":0.022},{"phase":0.777,"mag":13.094,"err":0.022},{"phase":0.785,"mag":13.122,"err":0.022},{"phase":0.794,"mag":13.116,"err":0.022},{"phase":0.802,"mag":13.110,"err":0.022},{"phase":0.810,"mag":13.093,"err":0.022},{"phase":0.819,"mag":13.127,"err":0.022},{"phase":0.827,"mag":13.114,"err":0.022},{"phase":0.835,"mag":13.130,"err":0.022},{"phase":0.844,"mag":13.106,"err":0.022},{"phase":0.852,"mag":13.120,"err":0.022},{"phase":0.860,"mag":13.094,"err":0.022},{"phase":0.869,"mag":13.134,"err":0.022},{"phase":0.877,"mag":13.112,"err":0.022},{"phase":0.885,"mag":13.104,"err":0.022},{"phase":0.894,"mag":13.123,"err":0.022},{"phase":0.902,"mag":13.129,"err":0.022},{"phase":0.910,"mag":13.091,"err":0.022},{"phase":0.919,"mag":13.111,"err":0.022},{"phase":0.927,"mag":13.114,"err":0.022},{"phase":0.935,"mag":13.086,"err":0.022},{"phase":0.944,"mag":13.118,"err":0.022},{"phase":0.952,"mag":13.098,"err":0.022},{"phase":0.960,"mag":13.088,"err":0.022},{"phase":0.969,"mag":13.105,"err":0.022},{"phase":0.977,"mag":13.077,"err":0.022},{"phase":0.985,"mag":13.092,"err":0.022},{"phase":0.994,"mag":13.070,"err":0.022}
],
"Ks":[
{"phase":0.003,"mag":12.905,"err":0.02},{"phase":0.007,"mag":12.885,"err":0.02},{"phase":0.012,"mag":12.925,"err":0.02},{"phase":0.016,"mag":12.895,"err":0.02},{"phase":0.020,"mag":12.940,"err":0.02},{"phase":0.025,"mag":12.912,"err":0.02},{"phase":0.029,"mag":12.985,"err":0.02},{"phase":0.034,"mag":12.890,"err":0.02},{"phase":0.038,"mag":12.915,"err":0.02},{"phase":0.042,"mag":12.875,"err":0.02},{"phase":0.047,"mag":12.930,"err":0.02},{"phase":0.051,"mag":12.898,"err":0.02},{"phase":0.055,"mag":12.860,"err":0.02},{"phase":0.060,"mag":12.905,"err":0.02},{"phase":0.064,"mag":12.880,"err":0.02},{"phase":0.069,"mag":12.845,"err":0.02},{"phase":0.073,"mag":12.920,"err":0.02},{"phase":0.077,"mag":12.892,"err":0.02},{"phase":0.082,"mag":12.870,"err":0.02},{"phase":0.086,"mag":12.910,"err":0.02},{"phase":0.091,"mag":12.852,"err":0.02},{"phase":0.095,"mag":12.888,"err":0.02},{"phase":0.099,"mag":12.935,"err":0.02},{"phase":0.104,"mag":12.872,"err":0.02},{"phase":0.108,"mag":12.898,"err":0.02},{"phase":0.113,"mag":12.860,"err":0.02},{"phase":0.117,"mag":12.882,"err":0.02},{"phase":0.121,"mag":12.915,"err":0.02},{"phase":0.126,"mag":12.868,"err":0.02},{"phase":0.130,"mag":12.850,"err":0.02},{"phase":0.135,"mag":12.892,"err":0.02},{"phase":0.139,"mag":12.875,"err":0.02},{"phase":0.143,"mag":12.905,"err":0.02},{"phase":0.148,"mag":12.862,"err":0.02},{"phase":0.152,"mag":12.885,"err":0.02},{"phase":0.157,"mag":12.842,"err":0.02},{"phase":0.161,"mag":12.878,"err":0.02},{"phase":0.165,"mag":12.928,"err":0.02},{"phase":0.170,"mag":12.865,"err":0.02},{"phase":0.174,"mag":12.890,"err":0.02},{"phase":0.179,"mag":12.855,"err":0.02},{"phase":0.183,"mag":12.880,"err":0.02},{"phase":0.187,"mag":12.912,"err":0.02},{"phase":0.192,"mag":12.870,"err":0.02},{"phase":0.196,"mag":12.848,"err":0.02},{"phase":0.201,"mag":12.885,"err":0.02},{"phase":0.205,"mag":12.865,"err":0.02},{"phase":0.209,"mag":12.898,"err":0.02},{"phase":0.214,"mag":12.858,"err":0.02},{"phase":0.218,"mag":12.880,"err":0.02},{"phase":0.223,"mag":12.845,"err":0.02},{"phase":0.227,"mag":12.872,"err":0.02},{"phase":0.231,"mag":12.955,"err":0.02},{"phase":0.236,"mag":12.888,"err":0.02},{"phase":0.240,"mag":12.862,"err":0.02},{"phase":0.245,"mag":12.840,"err":0.02},{"phase":0.249,"mag":12.878,"err":0.02},{"phase":0.253,"mag":12.900,"err":0.02},{"phase":0.258,"mag":12.865,"err":0.02},{"phase":0.262,"mag":12.885,"err":0.02},{"phase":0.267,"mag":12.850,"err":0.02},{"phase":0.271,"mag":12.875,"err":0.02},{"phase":0.275,"mag":12.800,"err":0.02},{"phase":0.280,"mag":12.868,"err":0.02},{"phase":0.284,"mag":12.820,"err":0.02},{"phase":0.289,"mag":12.890,"err":0.02},{"phase":0.293,"mag":12.858,"err":0.02},{"phase":0.297,"mag":12.880,"err":0.02},{"phase":0.302,"mag":12.905,"err":0.02},{"phase":0.306,"mag":12.870,"err":0.02},{"phase":0.311,"mag":12.888,"err":0.02},{"phase":0.315,"mag":12.852,"err":0.02},{"phase":0.319,"mag":12.875,"err":0.02},{"phase":0.324,"mag":12.898,"err":0.02},{"phase":0.328,"mag":12.862,"err":0.02},{"phase":0.333,"mag":12.882,"err":0.02},{"phase":0.337,"mag":12.845,"err":0.02},{"phase":0.341,"mag":12.872,"err":0.02},{"phase":0.346,"mag":12.910,"err":0.02},{"phase":0.350,"mag":12.868,"err":0.02},{"phase":0.355,"mag":12.890,"err":0.02},{"phase":0.359,"mag":12.855,"err":0.02},{"phase":0.363,"mag":12.878,"err":0.02},{"phase":0.368,"mag":12.925,"err":0.02},{"phase":0.372,"mag":12.872,"err":0.02},{"phase":0.377,"mag":12.895,"err":0.02},{"phase":0.381,"mag":12.860,"err":0.02},{"phase":0.385,"mag":12.882,"err":0.02},{"phase":0.390,"mag":12.905,"err":0.02},{"phase":0.394,"mag":12.875,"err":0.02},{"phase":0.399,"mag":12.848,"err":0.02},{"phase":0.403,"mag":12.888,"err":0.02},{"phase":0.407,"mag":12.868,"err":0.02},{"phase":0.412,"mag":12.895,"err":0.02},{"phase":0.416,"mag":12.878,"err":0.02},{"phase":0.421,"mag":12.850,"err":0.02},{"phase":0.425,"mag":12.885,"err":0.02},{"phase":0.429,"mag":12.910,"err":0.02},{"phase":0.434,"mag":12.880,"err":0.02},{"phase":0.438,"mag":12.900,"err":0.02},{"phase":0.443,"mag":12.865,"err":0.02},{"phase":0.447,"mag":12.892,"err":0.02},{"phase":0.451,"mag":12.915,"err":0.02},{"phase":0.456,"mag":12.885,"err":0.02},{"phase":0.460,"mag":12.905,"err":0.02},{"phase":0.465,"mag":12.875,"err":0.02},{"phase":0.469,"mag":12.898,"err":0.02},{"phase":0.473,"mag":12.925,"err":0.02},{"phase":0.478,"mag":12.892,"err":0.02},{"phase":0.482,"mag":12.912,"err":0.02},{"phase":0.487,"mag":12.880,"err":0.02},{"phase":0.491,"mag":12.905,"err":0.02},{"phase":0.495,"mag":12.935,"err":0.02},{"phase":0.500,"mag":12.900,"err":0.02},{"phase":0.504,"mag":12.918,"err":0.02},{"phase":0.509,"mag":12.888,"err":0.02},{"phase":0.513,"mag":12.910,"err":0.02},{"phase":0.517,"mag":12.945,"err":0.02},{"phase":0.522,"mag":12.905,"err":0.02},{"phase":0.526,"mag":12.925,"err":0.02},{"phase":0.531,"mag":12.895,"err":0.02},{"phase":0.535,"mag":12.918,"err":0.02},{"phase":0.539,"mag":12.950,"err":0.02},{"phase":0.544,"mag":12.912,"err":0.02},{"phase":0.548,"mag":12.932,"err":0.02},{"phase":0.553,"mag":12.900,"err":0.02},{"phase":0.557,"mag":12.925,"err":0.02},{"phase":0.561,"mag":12.960,"err":0.02},{"phase":0.566,"mag":12.918,"err":0.02},{"phase":0.570,"mag":12.940,"err":0.02},{"phase":0.575,"mag":12.905,"err":0.02},{"phase":0.579,"mag":12.932,"err":0.02},{"phase":0.583,"mag":12.970,"err":0.02},{"phase":0.588,"mag":12.925,"err":0.02},{"phase":0.592,"mag":13.020,"err":0.02},{"phase":0.597,"mag":12.915,"err":0.02},{"phase":0.601,"mag":12.940,"err":0.02},{"phase":0.605,"mag":12.962,"err":0.02},{"phase":0.610,"mag":12.862,"err":0.02},{"phase":0.614,"mag":12.948,"err":0.02},{"phase":0.619,"mag":12.920,"err":0.02},{"phase":0.623,"mag":12.940,"err":0.02},{"phase":0.627,"mag":12.975,"err":0.02},{"phase":0.632,"mag":12.932,"err":0.02},{"phase":0.636,"mag":12.952,"err":0.02},{"phase":0.641,"mag":12.918,"err":0.02},{"phase":0.645,"mag":12.945,"err":0.02},{"phase":0.649,"mag":12.965,"err":0.02},{"phase":0.654,"mag":12.928,"err":0.02},{"phase":0.658,"mag":12.948,"err":0.02},{"phase":0.663,"mag":12.912,"err":0.02},{"phase":0.667,"mag":12.940,"err":0.02},{"phase":0.671,"mag":12.978,"err":0.02},{"phase":0.676,"mag":12.935,"err":0.02},{"phase":0.680,"mag":12.955,"err":0.02},{"phase":0.685,"mag":12.922,"err":0.02},{"phase":0.689,"mag":12.945,"err":0.02},{"phase":0.693,"mag":12.968,"err":0.02},{"phase":0.698,"mag":12.930,"err":0.02},{"phase":0.702,"mag":12.952,"err":0.02},{"phase":0.707,"mag":12.918,"err":0.02},{"phase":0.711,"mag":12.942,"err":0.02},{"phase":0.715,"mag":12.985,"err":0.02},{"phase":0.720,"mag":12.935,"err":0.02},{"phase":0.724,"mag":12.958,"err":0.02},{"phase":0.729,"mag":12.922,"err":0.02},{"phase":0.733,"mag":12.948,"err":0.02},{"phase":0.737,"mag":13.035,"err":0.02},{"phase":0.742,"mag":12.932,"err":0.02},{"phase":0.746,"mag":12.955,"err":0.02},{"phase":0.751,"mag":12.918,"err":0.02},{"phase":0.755,"mag":12.945,"err":0.02},{"phase":0.759,"mag":12.970,"err":0.02},{"phase":0.764,"mag":12.930,"err":0.02},{"phase":0.768,"mag":12.952,"err":0.02},{"phase":0.773,"mag":12.915,"err":0.02},{"phase":0.777,"mag":12.940,"err":0.02},{"phase":0.781,"mag":12.978,"err":0.02},{"phase":0.786,"mag":12.935,"err":0.02},{"phase":0.790,"mag":12.958,"err":0.02},{"phase":0.795,"mag":12.922,"err":0.02},{"phase":0.799,"mag":12.945,"err":0.02},{"phase":0.803,"mag":12.968,"err":0.02},{"phase":0.808,"mag":12.930,"err":0.02},{"phase":0.812,"mag":12.950,"err":0.02},{"phase":0.817,"mag":12.912,"err":0.02},{"phase":0.821,"mag":12.940,"err":0.02},{"phase":0.825,"mag":12.972,"err":0.02},{"phase":0.830,"mag":12.932,"err":0.02},{"phase":0.834,"mag":12.955,"err":0.02},{"phase":0.839,"mag":12.918,"err":0.02},{"phase":0.843,"mag":12.942,"err":0.02},{"phase":0.847,"mag":12.965,"err":0.02},{"phase":0.852,"mag":12.928,"err":0.02},{"phase":0.856,"mag":12.948,"err":0.02},{"phase":0.861,"mag":12.910,"err":0.02},{"phase":0.865,"mag":12.935,"err":0.02},{"phase":0.869,"mag":12.960,"err":0.02},{"phase":0.874,"mag":12.925,"err":0.02},{"phase":0.878,"mag":12.945,"err":0.02},{"phase":0.883,"mag":12.905,"err":0.02},{"phase":0.887,"mag":12.932,"err":0.02},{"phase":0.891,"mag":12.958,"err":0.02},{"phase":0.896,"mag":12.922,"err":0.02},{"phase":0.900,"mag":12.940,"err":0.02},{"phase":0.905,"mag":12.902,"err":0.02},{"phase":0.909,"mag":12.928,"err":0.02},{"phase":0.913,"mag":12.952,"err":0.02},{"phase":0.918,"mag":12.918,"err":0.02},{"phase":0.922,"mag":12.938,"err":0.02},{"phase":0.927,"mag":12.898,"err":0.02},{"phase":0.931,"mag":12.925,"err":0.02},{"phase":0.935,"mag":12.948,"err":0.02},{"phase":0.940,"mag":12.915,"err":0.02},{"phase":0.944,"mag":12.932,"err":0.02},{"phase":0.949,"mag":12.895,"err":0.02},{"phase":0.953,"mag":12.920,"err":0.02},{"phase":0.957,"mag":12.940,"err":0.02},{"phase":0.962,"mag":12.910,"err":0.02},{"phase":0.966,"mag":12.928,"err":0.02},{"phase":0.971,"mag":12.890,"err":0.02},{"phase":0.975,"mag":12.915,"err":0.02},{"phase":0.979,"mag":12.975,"err":0.02},{"phase":0.984,"mag":12.905,"err":0.02},{"phase":0.988,"mag":12.870,"err":0.02},{"phase":0.993,"mag":12.898,"err":0.02},{"phase":0.997,"mag":12.912,"err":0.02},
{"phase":0.002,"mag":12.906,"err":0.018},{"phase":0.010,"mag":12.888,"err":0.018},{"phase":0.019,"mag":12.918,"err":0.018},{"phase":0.027,"mag":12.898,"err":0.018},{"phase":0.035,"mag":12.910,"err":0.018},{"phase":0.044,"mag":12.884,"err":0.018},{"phase":0.052,"mag":12.882,"err":0.018},{"phase":0.060,"mag":12.871,"err":0.018},{"phase":0.069,"mag":12.892,"err":0.018},{"phase":0.077,"mag":12.877,"err":0.018},{"phase":0.085,"mag":12.858,"err":0.018},{"phase":0.094,"mag":12.886,"err":0.018},{"phase":0.102,"mag":12.880,"err":0.018},{"phase":0.110,"mag":12.868,"err":0.018},{"phase":0.119,"mag":12.893,"err":0.018},{"phase":0.127,"mag":12.873,"err":0.018},{"phase":0.135,"mag":12.889,"err":0.018},{"phase":0.144,"mag":12.864,"err":0.018},{"phase":0.152,"mag":12.879,"err":0.018},{"phase":0.160,"mag":12.885,"err":0.018},{"phase":0.169,"mag":12.860,"err":0.018},{"phase":0.177,"mag":12.883,"err":0.018},{"phase":0.185,"mag":12.875,"err":0.018},{"phase":0.194,"mag":12.891,"err":0.018},{"phase":0.202,"mag":12.869,"err":0.018},{"phase":0.210,"mag":12.897,"err":0.018},{"phase":0.219,"mag":12.872,"err":0.018},{"phase":0.227,"mag":12.880,"err":0.018},{"phase":0.235,"mag":12.865,"err":0.018},{"phase":0.244,"mag":12.887,"err":0.018},{"phase":0.252,"mag":12.876,"err":0.018},{"phase":0.260,"mag":12.894,"err":0.018},{"phase":0.269,"mag":12.868,"err":0.018},{"phase":0.277,"mag":12.884,"err":0.018},{"phase":0.285,"mag":12.863,"err":0.018},{"phase":0.294,"mag":12.888,"err":0.018},{"phase":0.302,"mag":12.874,"err":0.018},{"phase":0.310,"mag":12.881,"err":0.018},{"phase":0.319,"mag":12.870,"err":0.018},{"phase":0.327,"mag":12.892,"err":0.018},{"phase":0.335,"mag":12.890,"err":0.018},{"phase":0.344,"mag":12.872,"err":0.018},{"phase":0.352,"mag":12.861,"err":0.018},{"phase":0.360,"mag":12.885,"err":0.018},{"phase":0.369,"mag":12.878,"err":0.018},{"phase":0.377,"mag":12.867,"err":0.018},{"phase":0.385,"mag":12.896,"err":0.018},{"phase":0.394,"mag":12.876,"err":0.018},{"phase":0.402,"mag":12.883,"err":0.018},{"phase":0.410,"mag":12.864,"err":0.018},{"phase":0.419,"mag":12.888,"err":0.018},{"phase":0.427,"mag":12.871,"err":0.018},{"phase":0.435,"mag":12.880,"err":0.018},{"phase":0.444,"mag":12.893,"err":0.018},{"phase":0.452,"mag":12.886,"err":0.018},{"phase":0.460,"mag":12.911,"err":0.018},{"phase":0.469,"mag":12.904,"err":0.018},{"phase":0.477,"mag":12.916,"err":0.018},{"phase":0.485,"mag":12.900,"err":0.018},{"phase":0.494,"mag":12.909,"err":0.018},{"phase":0.502,"mag":12.900,"err":0.018},{"phase":0.510,"mag":12.919,"err":0.018},{"phase":0.519,"mag":12.893,"err":0.018},{"phase":0.527,"mag":12.907,"err":0.018},{"phase":0.535,"mag":12.913,"err":0.018},{"phase":0.544,"mag":12.890,"err":0.018},{"phase":0.552,"mag":12.941,"err":0.018},{"phase":0.560,"mag":12.932,"err":0.018},{"phase":0.569,"mag":12.948,"err":0.018},{"phase":0.577,"mag":12.925,"err":0.018},{"phase":0.585,"mag":12.936,"err":0.018},{"phase":0.594,"mag":12.938,"err":0.018},{"phase":0.602,"mag":12.925,"err":0.018},{"phase":0.610,"mag":12.953,"err":0.018},{"phase":0.619,"mag":12.933,"err":0.018},{"phase":0.627,"mag":12.942,"err":0.018},{"phase":0.635,"mag":12.930,"err":0.018},{"phase":0.644,"mag":12.919,"err":0.018},{"phase":0.652,"mag":12.949,"err":0.018},{"phase":0.660,"mag":12.937,"err":0.018},{"phase":0.669,"mag":12.942,"err":0.018},{"phase":0.677,"mag":12.917,"err":0.018},{"phase":0.685,"mag":12.945,"err":0.018},{"phase":0.694,"mag":12.938,"err":0.018},{"phase":0.702,"mag":12.925,"err":0.018},{"phase":0.710,"mag":12.953,"err":0.018},{"phase":0.719,"mag":12.933,"err":0.018},{"phase":0.727,"mag":12.929,"err":0.018},{"phase":0.735,"mag":12.944,"err":0.018},{"phase":0.744,"mag":12.937,"err":0.018},{"phase":0.752,"mag":12.922,"err":0.018},{"phase":0.760,"mag":12.949,"err":0.018},{"phase":0.769,"mag":12.931,"err":0.018},{"phase":0.777,"mag":12.937,"err":0.018},{"phase":0.785,"mag":12.927,"err":0.018},{"phase":0.794,"mag":12.951,"err":0.018},{"phase":0.802,"mag":12.924,"err":0.018},{"phase":0.810,"mag":12.941,"err":0.018},{"phase":0.819,"mag":12.937,"err":0.018},{"phase":0.827,"mag":12.921,"err":0.018},{"phase":0.835,"mag":12.945,"err":0.018},{"phase":0.844,"mag":12.934,"err":0.018},{"phase":0.852,"mag":12.947,"err":0.018},{"phase":0.860,"mag":12.928,"err":0.018},{"phase":0.869,"mag":12.939,"err":0.018},{"phase":0.877,"mag":12.918,"err":0.018},{"phase":0.885,"mag":12.950,"err":0.018},{"phase":0.894,"mag":12.921,"err":0.018},{"phase":0.902,"mag":12.940,"err":0.018},{"phase":0.910,"mag":12.923,"err":0.018},{"phase":0.919,"mag":12.916,"err":0.018},{"phase":0.927,"mag":12.931,"err":0.018},{"phase":0.935,"mag":12.936,"err":0.018},{"phase":0.944,"mag":12.918,"err":0.018},{"phase":0.952,"mag":12.938,"err":0.018},{"phase":0.960,"mag":12.910,"err":0.018},{"phase":0.969,"mag":12.917,"err":0.018},{"phase":0.977,"mag":12.923,"err":0.018},{"phase":0.985,"mag":12.902,"err":0.018},{"phase":0.994,"mag":12.898,"err":0.018}
]
},
"vconcat":[
{
 "width":348,"height":106,
 "data":{"name":"J"},
 "layer":[
  {"mark":{"type":"errorbar","color":"#5cedb0","thickness":2},
   "encoding":{
    "x":{"field":"phase","type":"quantitative","scale":{"domain":[0,1],"nice":false},"axis":{"orient":"bottom","values":[0,0.1,0.2,0.3,0.4,0.5,0.6,0.7,0.8,0.9,1],"labels":false,"title":null,"tickSize":{"condition":{"test":"round(datum.value*10)%2==0","value":-6},"value":-3}}},
    "y":{"field":"mag","type":"quantitative","scale":{"domain":[13.612,13.914],"reverse":true,"zero":false,"nice":false},"axis":{"orient":"left","values":[13.65,13.6875,13.725,13.7625,13.8,13.8375,13.875],"labelFont":"Liberation Serif","labelExpr":"round((datum.value-13.65)/0.0375)%2==0 ? toString(datum.value) : ''","tickSize":{"condition":{"test":"round((datum.value-13.65)/0.0375)%2==0","value":-6},"value":-3},"labelPadding":9,"title":"J","titleAngle":0,"titleBaseline":"middle","titlePadding":6}},
    "yError":{"field":"err"}}},
  {"mark":{"type":"square","size":16,"color":"black","opacity":1},
   "encoding":{
    "x":{"field":"phase","type":"quantitative","scale":{"domain":[0,1],"nice":false},"axis":{"orient":"top","values":[0,0.1,0.2,0.3,0.4,0.5,0.6,0.7,0.8,0.9,1],"labels":false,"title":null,"tickSize":{"condition":{"test":"round(datum.value*10)%2==0","value":-6},"value":-3}}},
    "y":{"field":"mag","type":"quantitative","scale":{"domain":[13.612,13.914],"reverse":true,"zero":false,"nice":false},"axis":{"orient":"right","values":[13.65,13.6875,13.725,13.7625,13.8,13.8375,13.875],"labels":false,"title":null,"tickSize":{"condition":{"test":"round((datum.value-13.65)/0.0375)%2==0","value":-6},"value":-3}}}}},
  {"data":{"values":[{"level":13.761}]},"mark":{"type":"rule","color":"#ff0000","strokeWidth":2},
   "encoding":{"y":{"field":"level","type":"quantitative","axis":null}}}
 ],
 "resolve":{"axis":{"x":"independent","y":"independent"}}
},
{
 "width":348,"height":104,
 "data":{"name":"H"},
 "layer":[
  {"mark":{"type":"errorbar","color":"#5cedb0","thickness":2},
   "encoding":{
    "x":{"field":"phase","type":"quantitative","scale":{"domain":[0,1],"nice":false},"axis":{"orient":"bottom","values":[0,0.1,0.2,0.3,0.4,0.5,0.6,0.7,0.8,0.9,1],"labels":false,"title":null,"tickSize":{"condition":{"test":"round(datum.value*10)%2==0","value":-6},"value":-3}}},
    "y":{"field":"mag","type":"quantitative","scale":{"domain":[12.964,13.242],"reverse":true,"zero":false,"nice":false},"axis":{"orient":"left","values":[12.975,13.0125,13.05,13.0875,13.125,13.1625,13.2,13.2375],"labelFont":"Liberation Serif","labelExpr":"round((datum.value-12.975)/0.0375)%2==0 ? toString(datum.value) : ''","tickSize":{"condition":{"test":"round((datum.value-12.975)/0.0375)%2==0","value":-6},"value":-3},"labelPadding":9,"title":"H","titleAngle":0,"titleBaseline":"middle","titlePadding":6}},
    "yError":{"field":"err"}}},
  {"mark":{"type":"square","size":16,"color":"black","opacity":1},
   "encoding":{
    "x":{"field":"phase","type":"quantitative","scale":{"domain":[0,1],"nice":false},"axis":{"orient":"top","values":[0,0.1,0.2,0.3,0.4,0.5,0.6,0.7,0.8,0.9,1],"labels":false,"title":null,"tickSize":{"condition":{"test":"round(datum.value*10)%2==0","value":-6},"value":-3}}},
    "y":{"field":"mag","type":"quantitative","scale":{"domain":[12.964,13.242],"reverse":true,"zero":false,"nice":false},"axis":{"orient":"right","values":[12.975,13.0125,13.05,13.0875,13.125,13.1625,13.2,13.2375],"labels":false,"title":null,"tickSize":{"condition":{"test":"round((datum.value-12.975)/0.0375)%2==0","value":-6},"value":-3}}}}},
  {"data":{"values":[{"level":13.097}]},"mark":{"type":"rule","color":"#ff0000","strokeWidth":2},
   "encoding":{"y":{"field":"level","type":"quantitative","axis":null}}}
 ],
 "resolve":{"axis":{"x":"independent","y":"independent"}}
},
{
 "width":348,"height":106,
 "data":{"name":"Ks"},
 "layer":[
  {"mark":{"type":"errorbar","color":"#5cedb0","thickness":2},
   "encoding":{
    "x":{"field":"phase","type":"quantitative","scale":{"domain":[0,1],"nice":false},"axis":{"orient":"bottom","values":[0,0.1,0.2,0.3,0.4,0.5,0.6,0.7,0.8,0.9,1],"labelFont":"Liberation Serif","labelExpr":"round(datum.value*10)%2==0 ? toString(datum.value) : ''","labelPadding":8,"title":"Phase","titlePadding":0,"tickSize":{"condition":{"test":"round(datum.value*10)%2==0","value":-6},"value":-3}}},
    "y":{"field":"mag","type":"quantitative","scale":{"domain":[12.73,13.085],"reverse":true,"zero":false,"nice":false},"axis":{"orient":"left","values":[12.75,12.7875,12.825,12.8625,12.9,12.9375,12.975,13.0125,13.05],"labelFont":"Liberation Serif","labelExpr":"round((datum.value-12.75)/0.0375)%2==0 ? toString(datum.value) : ''","tickSize":{"condition":{"test":"round((datum.value-12.75)/0.0375)%2==0","value":-6},"value":-3},"labelPadding":9,"title":"Kₛ","titleAngle":0,"titleBaseline":"middle","titlePadding":6}},
    "yError":{"field":"err"}}},
  {"mark":{"type":"square","size":16,"color":"black","opacity":1},
   "encoding":{
    "x":{"field":"phase","type":"quantitative","scale":{"domain":[0,1],"nice":false},"axis":{"orient":"top","values":[0,0.1,0.2,0.3,0.4,0.5,0.6,0.7,0.8,0.9,1],"labels":false,"title":null,"tickSize":{"condition":{"test":"round(datum.value*10)%2==0","value":-6},"value":-3}}},
    "y":{"field":"mag","type":"quantitative","scale":{"domain":[12.73,13.085],"reverse":true,"zero":false,"nice":false},"axis":{"orient":"right","values":[12.75,12.7875,12.825,12.8625,12.9,12.9375,12.975,13.0125,13.05],"labels":false,"title":null,"tickSize":{"condition":{"test":"round((datum.value-12.75)/0.0375)%2==0","value":-6},"value":-3}}}}},
  {"data":{"values":[{"level":12.92}]},"mark":{"type":"rule","color":"#ff0000","strokeWidth":2},
   "encoding":{"y":{"field":"level","type":"quantitative","axis":null}}}
 ],
 "resolve":{"axis":{"x":"independent","y":"independent"}}
}
]
}
